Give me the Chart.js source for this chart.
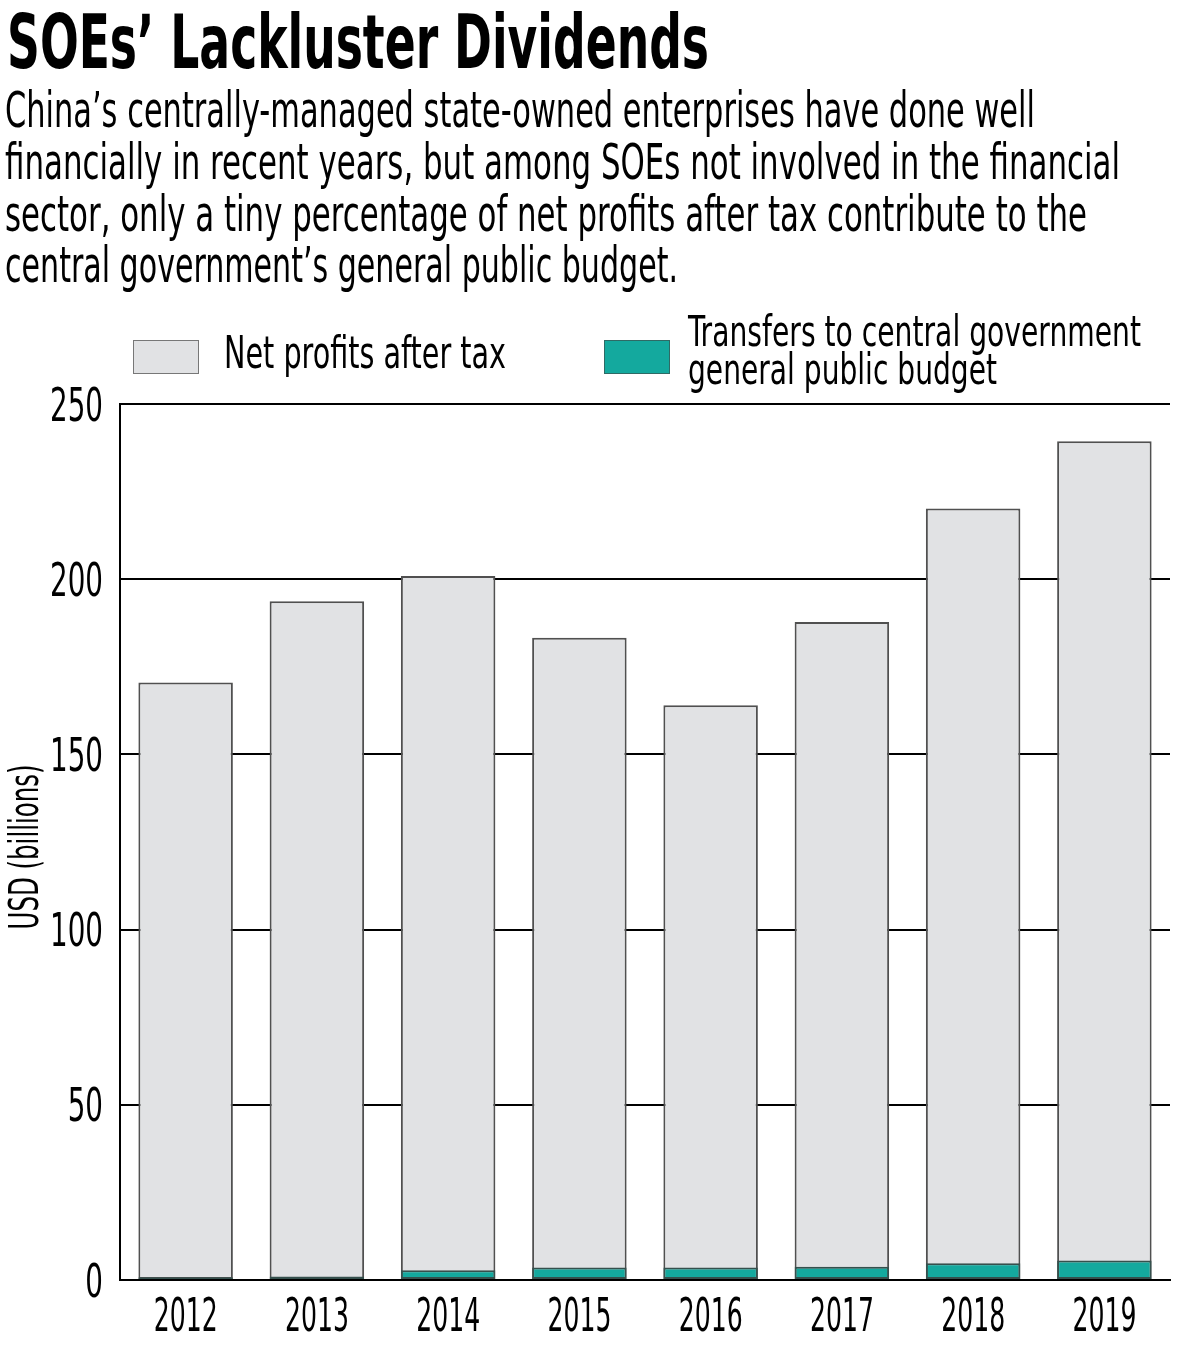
<!DOCTYPE html>
<html>
<head>
<meta charset="utf-8">
<title>SOEs' Lackluster Dividends</title>
<script src="https://cdn.jsdelivr.net/npm/chart.js@4.4.1/dist/chart.umd.min.js"></script>
<style>
  html, body { margin: 0; padding: 0; background: #fff; }
  #page { position: relative; width: 1200px; height: 1351px; overflow: hidden; }
  #chartBox { position: absolute; left: 0; top: 0; width: 1200px; height: 1351px; }
  .fit {
    position: absolute;
    white-space: nowrap;
    line-height: 1;
    transform-origin: 0 0;
    color: #000;
    font-family: "Liberation Sans Narrow", "DejaVu Sans Condensed", "Liberation Sans", sans-serif;
  }
  .title { font-weight: bold; font-size: 74px; }
  .sub { font-size: 49px; }
  .leg { font-size: 45px; }
  .leg2 { font-size: 43px; }
  .swatch { position: absolute; width: 64px; height: 32px; }
</style>
</head>
<body>
<div id="page">
  <div id="chartBox"><canvas id="soeChart"></canvas></div>

  <div class="fit title" style="left:7px; top:5px" data-w="702">SOEs’ Lackluster Dividends</div>
  <div class="fit sub" style="left:5px; top:86px" data-w="1030">China’s centrally-managed state-owned enterprises have done well</div>
  <div class="fit sub" style="left:5px; top:138px" data-w="1115">financially in recent years, but among SOEs not involved in the financial</div>
  <div class="fit sub" style="left:5px; top:190px" data-w="1082">sector, only a tiny percentage of net profits after tax contribute to the</div>
  <div class="fit sub" style="left:5px; top:241px" data-w="673">central government’s general public budget.</div>

  <div class="swatch" style="left:133px; top:340px; background:#e1e2e4; border:1px solid #777;"></div>
  <div class="fit leg" style="left:224px; top:330px" data-w="282">Net profits after tax</div>
  <div class="swatch" style="left:604px; top:340px; background:#14a99e; border:1px solid #2f6a65;"></div>
  <div class="fit leg2" style="left:688px; top:310px" data-w="453">Transfers to central government</div>
  <div class="fit leg2" style="left:688px; top:348px" data-w="309">general public budget</div>
</div>

<script>
// data (USD billions)
var years = ['2012', '2013', '2014', '2015', '2016', '2017', '2018', '2019'];
var netProfits = [170.5, 193.7, 200.9, 183.3, 164.0, 187.8, 220.2, 239.4];
var transfers = [0.8, 1.0, 2.8, 3.6, 3.6, 3.8, 4.8, 5.6];
var yTitle = 'USD (billions)';

var FONT = '"Liberation Sans Narrow", "DejaVu Sans Condensed", "Liberation Sans", sans-serif';

// squeeze the html text lines to the widths of the condensed original
document.querySelectorAll('.fit').forEach(function (el) {
    var w = el.getBoundingClientRect().width;
    el.style.transform = 'scaleX(' + (el.dataset.w / w) + ')';
});

function drawSqueezed(ctx, text, x, y, sx, align) {
    ctx.save();
    ctx.translate(x, y);
    ctx.scale(sx, 1);
    ctx.textAlign = align;
    ctx.textBaseline = 'alphabetic';
    ctx.fillText(text, 0, 0);
    ctx.restore();
}

// tick labels and axis title, condensed, placed with the chart's own scales
var condensedLabels = {
    id: 'condensedLabels',
    afterDraw: function (chart) {
        var ctx = chart.ctx;
        var xs = chart.scales.x;
        var ys = chart.scales.y;
        ctx.save();
        ctx.fillStyle = '#000';
        ctx.font = '46px ' + FONT;
        var sx = 64 / ctx.measureText('2012').width;
        xs.ticks.forEach(function (t, i) {
            drawSqueezed(ctx, t.label, xs.getPixelForTick(i), xs.top + 51, sx, 'center');
        });
        var sy = 53 / ctx.measureText('250').width;
        ys.ticks.forEach(function (t, i) {
            drawSqueezed(ctx, t.label, ys.right - 17, ys.getPixelForTick(i) + 16.5, sy, 'right');
        });

        ctx.font = '40px ' + FONT;
        var tw = ctx.measureText(yTitle).width;
        ctx.translate(38, (ys.top + ys.bottom) / 2 + 5);
        ctx.rotate(-Math.PI / 2);
        ctx.scale(165 / tw, 1);
        ctx.textAlign = 'center';
        ctx.textBaseline = 'alphabetic';
        ctx.fillText(yTitle, 0, 0);
        ctx.restore();
    }
};

var soeChart = new Chart(document.getElementById('soeChart'), {
    type: 'bar',
    data: {
        labels: years,
        datasets: [
            {
                label: 'Net profits after tax',
                data: netProfits,
                backgroundColor: '#e1e2e4',
                borderColor: '#505050',
                borderWidth: 2,
                borderSkipped: false,
                order: 1
            },
            {
                label: 'Transfers to central government general public budget',
                data: transfers,
                backgroundColor: '#14a99e',
                borderColor: '#35504d',
                borderWidth: 2,
                borderSkipped: false,
                order: 0
            }
        ]
    },
    options: {
        responsive: true,
        maintainAspectRatio: false,
        animation: false,
        layout: { padding: { top: 404, right: 30, left: 0, bottom: 0 } },
        datasets: { bar: { categoryPercentage: 1, barPercentage: 0.72 } },
        plugins: {
            legend: { display: false },
            tooltip: { enabled: false }
        },
        scales: {
            x: {
                stacked: true,
                grid: { display: false },
                border: { display: true, color: '#000', width: 2, z: 1 },
                ticks: { display: false },
                afterFit: function (s) { s.height = 71; }
            },
            y: {
                stacked: false,
                min: 0,
                max: 250,
                ticks: { display: false, stepSize: 50 },
                grid: { color: '#000', lineWidth: 2, drawTicks: false },
                border: { display: true, color: '#000', width: 2 },
                afterFit: function (s) { s.width = 120; }
            }
        }
    },
    plugins: [condensedLabels]
});
</script>
</body>
</html>
